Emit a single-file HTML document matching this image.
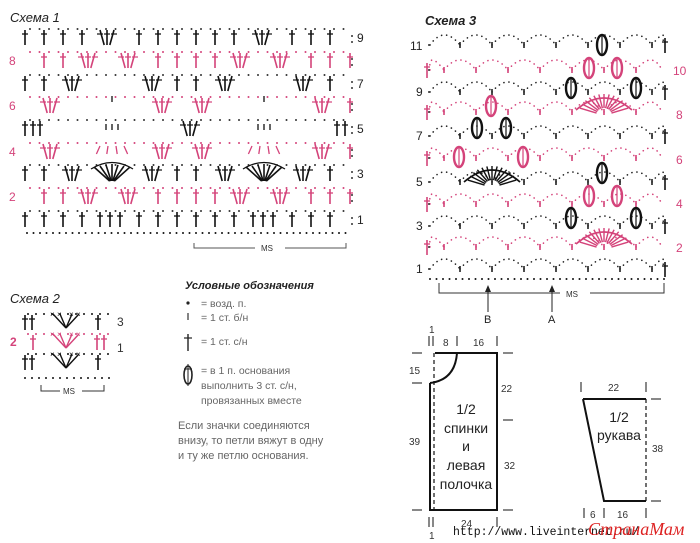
<!DOCTYPE html>
<html><head><meta charset="utf-8">
<style>
html,body{margin:0;padding:0;background:#fff;}
svg{display:block;font-family:"Liberation Sans","DejaVu Sans",sans-serif;}
</style></head><body>
<svg id="s" width="700" height="543" viewBox="0 0 700 543" xmlns="http://www.w3.org/2000/svg">
<rect width="700" height="543" fill="#fff"/>
<g id="g"></g>
<text x="10" y="22" font-size="13" font-style="italic" fill="#222">Схема 1</text>
<text x="10" y="303" font-size="13" font-style="italic" fill="#222">Схема 2</text>
<text x="425" y="25" font-size="13" font-style="italic" font-weight="bold" fill="#222">Схема 3</text>
<g font-size="12" fill="#222">
<text x="357" y="42">9</text><text x="357" y="88">7</text><text x="357" y="133">5</text><text x="357" y="178">3</text><text x="357" y="224">1</text>
</g>
<g font-size="12" fill="#d4437a">
<text x="9" y="65">8</text><text x="9" y="110">6</text><text x="9" y="156">4</text><text x="9" y="201">2</text>
</g>
<path d="M194 243 V248 H255 M285 248 H346 V243" stroke="#555" fill="none" stroke-width="1"/>
<text x="261" y="251" font-size="8" fill="#333">MS</text>
<text x="117" y="326" font-size="12" fill="#333">3</text>
<text x="117" y="352" font-size="12" fill="#333">1</text>
<text x="10" y="346" font-size="12" font-weight="bold" fill="#d4437a">2</text>
<path d="M41 385 V391 H60 M82 391 H104 V385" stroke="#333" fill="none" stroke-width="1"/>
<text x="63" y="394" font-size="8" fill="#333">MS</text>
<text x="185" y="289" font-size="11" font-weight="bold" font-style="italic" fill="#222">Условные обозначения</text>
<g font-size="10.5" fill="#666">
<circle cx="188" cy="303" r="1.6" fill="#222"/>
<text x="201" y="307">= возд. п.</text>
<line x1="188" y1="313" x2="188" y2="320" stroke="#333" stroke-width="1.2"/>
<text x="201" y="321">= 1 ст. б/н</text>
<line x1="188" y1="334" x2="188" y2="351" stroke="#222" stroke-width="1.4"/><line x1="184" y1="338" x2="192" y2="338" stroke="#222" stroke-width="1.2"/>
<text x="201" y="345">= 1 ст. с/н</text>
<ellipse cx="188" cy="375" rx="4" ry="9" fill="none" stroke="#222" stroke-width="1.6"/><line x1="188" y1="364" x2="188" y2="386" stroke="#222"/><line x1="184" y1="369" x2="192" y2="369" stroke="#222"/>
<text x="201" y="374">= в 1 п. основания</text>
<text x="201" y="389">выполнить 3 ст. с/н,</text>
<text x="201" y="404">провязанных вместе</text>
<text x="178" y="429" font-size="11">Если значки соединяются</text>
<text x="178" y="444" font-size="11">внизу, то петли вяжут в одну</text>
<text x="178" y="459" font-size="11">и ту же петлю основания.</text>
</g>
<g font-size="12" fill="#222">
<text x="410" y="50">11</text><text x="416" y="96">9</text><text x="416" y="140">7</text><text x="416" y="186">5</text><text x="416" y="230">3</text><text x="416" y="273">1</text>
</g>
<g font-size="12" fill="#d4437a">
<text x="673" y="75">10</text><text x="676" y="119">8</text><text x="676" y="164">6</text><text x="676" y="208">4</text><text x="676" y="252">2</text>
</g>
<path d="M439 283 V293 H560 M590 293 H664 V283" stroke="#333" fill="none" stroke-width="1"/>
<text x="566" y="297" font-size="8" fill="#333">MS</text>
<path d="M488 312 V287 M552 312 V287" stroke="#222" stroke-width="1"/>
<path d="M485 292 L488 285 L491 292Z M549 292 L552 285 L555 292Z" fill="#222"/>
<text x="484" y="323" font-size="11" fill="#222">B</text>
<text x="548" y="323" font-size="11" fill="#222">A</text>
<g stroke="#111" fill="none">
<path d="M435 353 H497 V510 H430 V383" stroke-width="2"/>
<path d="M430 383 Q455 380 457 353" stroke-width="2"/>
<line x1="434" y1="353" x2="434" y2="510" stroke-width="1.2" stroke-dasharray="4 3"/>
<path d="M583 399 H646 M583 399 L604 501 H646" stroke-width="2"/>
<line x1="646" y1="399" x2="646" y2="501" stroke-width="1.2" stroke-dasharray="4 3"/>
<g stroke-width="1">
<path d="M429 336 V346 M433 336 V346 M457 336 V346 M497 336 V346"/>
<path d="M412 353 H422 M412 383 H422 M412 510 H422 M503 353 H513 M503 420 H513 M503 510 H513"/>
<path d="M429 517 V527 M433 517 V527 M497 517 V527"/>
<path d="M581 382 V392 M646 382 V392 M651 399 H661 M651 501 H661 M584 508 V518 M604 508 V518 M646 508 V518"/>
</g>
</g>
<g font-size="10" fill="#333">
<text x="429" y="333">1</text><text x="443" y="346">8</text><text x="473" y="346">16</text>
<text x="409" y="374">15</text><text x="409" y="445">39</text>
<text x="501" y="392">22</text><text x="504" y="469">32</text>
<text x="461" y="527">24</text><text x="429" y="539">1</text>
<text x="608" y="391">22</text><text x="652" y="452">38</text>
<text x="590" y="518">6</text><text x="617" y="518">16</text>
</g>
<g font-size="14" fill="#222" text-anchor="middle">
<text x="466" y="414">1/2</text><text x="466" y="433">спинки</text><text x="466" y="451">и</text><text x="466" y="470">левая</text><text x="466" y="489">полочка</text>
<text x="619" y="422">1/2</text><text x="619" y="440">рукава</text>
</g>
<text x="453" y="535" font-size="11.5" font-family="Liberation Mono,monospace" fill="#111">http://www.liveinternet.ru/</text>
<text x="588" y="535" font-size="18" font-style="italic" font-family="Liberation Serif,serif" fill="#d22">СтранаМам</text>
</svg>
<script>
var g=document.getElementById('g'),NS='http://www.w3.org/2000/svg';
function el(t,a){var e=document.createElementNS(NS,t);for(var k in a)e.setAttribute(k,a[k]);g.appendChild(e);return e;}
var K='#111',P='#d4437a';
function dc(x,y,c){el('line',{x1:x,y1:y-7,x2:x,y2:y+8,stroke:c,'stroke-width':1.6});el('line',{x1:x-3,y1:y-3,x2:x+3,y2:y-3,stroke:c,'stroke-width':1.3});}
function cl(x,y,c){[-7,0,7].forEach(function(d){el('line',{x1:x+d,y1:y-7,x2:x+d*0.4,y2:y+8,stroke:c,'stroke-width':1.6});el('line',{x1:x+d-3,y1:y-3,x2:x+d+3,y2:y-3,stroke:c,'stroke-width':1.2});});}
function fan(x,y,c){for(var i=-3;i<=3;i++){el('line',{x1:x+i*6,y1:y-9+Math.abs(i),x2:x+i*0.8,y2:y+8,stroke:c,'stroke-width':1.6});}el('path',{d:'M'+(x-21)+' '+(y-4)+' Q'+x+' '+(y-17)+' '+(x+21)+' '+(y-4),stroke:c,fill:'none','stroke-width':1.3});}
function dots(x1,x2,y,c,s){for(var x=x1;x<=x2;x+=s)el('circle',{cx:x,cy:y,r:1,fill:c});}
var R=[
[219,K,[['t',25],['t',44],['t',63],['t',82],['t',100],['t',110],['t',120],['t',139],['t',158],['t',177],['t',196],['t',215],['t',234],['t',253],['t',263],['t',273],['t',292],['t',311],['t',330]]],
[196,P,[['t',44],['t',63],['c',88],['c',128],['t',158],['t',177],['t',196],['t',215],['c',240],['c',280],['t',311],['t',330],['t',350]]],
[173,K,[['t',25],['t',44],['c',72],['f',112],['c',152],['t',177],['t',196],['c',225],['f',264],['c',303],['t',330]]],
[151,P,[['c',50],['c',162],['c',202],['c',322],['t',350]]],
[128,K,[['t',25],['t',33],['t',40],['c',190],['t',337],['t',345]]],
[105,P,[['c',50],['c',162],['c',202],['c',322],['t',350]]],
[83,K,[['t',25],['t',44],['c',72],['c',152],['t',177],['t',196],['c',225],['c',303],['t',330]]],
[60,P,[['t',44],['t',63],['c',88],['c',128],['t',158],['t',177],['t',196],['t',215],['c',240],['c',280],['t',311],['t',330],['t',350]]],
[37,K,[['t',25],['t',44],['t',63],['t',82],['c',107],['t',139],['t',158],['t',177],['t',196],['t',215],['t',234],['c',262],['t',292],['t',311],['t',330]]]];
dots(27,348,233,K,6.5);
R.forEach(function(r){var y=r[0],c=r[1];dots(30,347,y-8,c==K?'#333':P,9.5);
el('circle',{cx:352,cy:y-1,r:1,fill:'#333'});el('circle',{cx:352,cy:y+5,r:1,fill:'#333'});
r[2].forEach(function(s){if(s[0]=='t')dc(s[1],y,c);else if(s[0]=='c')cl(s[1],y,c);else fan(s[1],y,c);});});
[112,264].forEach(function(x){[-12,-4,4,12].forEach(function(d){el('line',{x1:x+d,y1:146,x2:x+d*1.3,y2:154,stroke:P,'stroke-width':1.3});});
[-6,0,6].forEach(function(d){el('line',{x1:x+d,y1:124,x2:x+d,y2:130,stroke:K,'stroke-width':1.3});});el('line',{x1:x,y1:96,x2:x,y2:102,stroke:K,'stroke-width':1.3});});
[[322,K],[342,P],[362,K]].forEach(function(r,i){var y=r[0],c=r[1];dots(28,110,y-8,c,8);
if(i==1){dc(33,y,c);dc(97,y,c);dc(104,y,c);}else{dc(25,y,c);dc(32,y,c);dc(98,y,c);}
[-13,-6,6,13].forEach(function(d){el('line',{x1:66+d,y1:y-8,x2:66,y2:y+6,stroke:c,'stroke-width':1.4});el('text',{x:66+d-3,y:y-5,'font-size':8,fill:c}).textContent='×';});
});
dots(25,110,378,K,7);
var ys=[269,247,226,204,182,158,136,112,92,70,45];
dots(430,668,279,K,6.5);
ys.forEach(function(y,i){var odd=i%2==0,c=odd?'#222':P,x0=odd?460:444;
for(var x=x0;x<=664;x+=32){el('line',{x1:x,y1:y-3,x2:x,y2:y+3,stroke:c,'stroke-width':1.6});}
for(var x=x0-32;x<=664;x+=32){var a=Math.max(x,430),b=Math.min(x+32,662);el('path',{d:'M'+a+' '+y+' Q'+(x+16)+' '+(y-20)+' '+b+' '+y,stroke:c,fill:'none','stroke-width':1.6,'stroke-dasharray':'0.1 5','stroke-linecap':'round'});}
if(odd)dc(665,y,K);else dc(427,y,P);
el('circle',{cx:429,cy:y,r:1,fill:'#333'});});
function ov(x,y,c){el('ellipse',{cx:x,cy:y,rx:5,ry:10,fill:'none',stroke:c,'stroke-width':2.4});el('line',{x1:x,y1:y-9,x2:x,y2:y+9,stroke:c,'stroke-width':1.2});}
[[602,45,K],[589,68,P],[617,68,P],[571,88,K],[636,88,K],[491,106,P],[477,128,K],[506,128,K],[459,157,P],[523,157,P],[602,173,K],[589,196,P],[617,196,P],[571,218,K],[636,218,K]].forEach(function(o){ov(o[0],o[1],o[2]);});
function fan3(cx,y,c){for(var i=-6;i<=6;i++){var a=i*0.2;el('line',{x1:cx+Math.sin(a)*8,y1:y+8-Math.cos(a)*8+8,x2:cx+Math.sin(a)*26,y2:y+16-Math.cos(a)*22,stroke:c,'stroke-width':1.4});}
el('path',{d:'M'+(cx-28)+' '+(y+10)+' Q'+cx+' '+(y-14)+' '+(cx+28)+' '+(y+10),stroke:c,fill:'none','stroke-width':1.8});}
fan3(492,172,K);fan3(604,100,P);fan3(604,234,P);
</script>
</body></html>
